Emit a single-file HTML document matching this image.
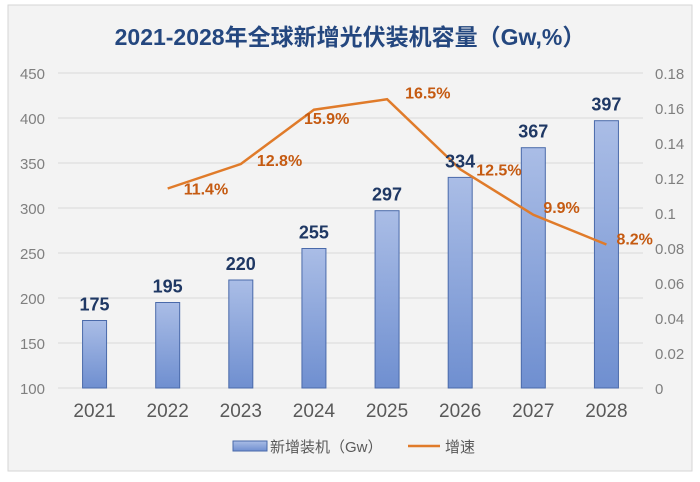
<!DOCTYPE html>
<html><head><meta charset="utf-8"><style>
body{margin:0;background:#fff;}
svg text{font-family:"Liberation Sans","Noto Sans CJK SC",sans-serif;}
</style></head><body>
<svg width="700" height="477" viewBox="0 0 700 477">
<defs><linearGradient id="bg" x1="0" y1="0" x2="0" y2="1"><stop offset="0" stop-color="#aabde6"/><stop offset="1" stop-color="#6f8fd0"/></linearGradient></defs>
<rect x="8" y="5" width="684" height="466" fill="#f3f3f3" stroke="#d6d6d6"/>
<text x="350" y="45" text-anchor="middle" font-size="23" font-weight="bold" fill="#24477f">2021-2028年全球新增光伏装机容量（Gw,%）</text>
<g id="grid"></g><g id="bars"></g><g id="line"></g><g id="labels"></g>
<g>
<rect x="233" y="441" width="34" height="10" fill="url(#bg)" stroke="#4a6aaa"/>
<text x="270" y="452" font-size="15" fill="#595959">新增装机（Gw）</text>
<line x1="408" y1="446" x2="440" y2="446" stroke="#e07b2a" stroke-width="2.5"/>
<text x="445" y="452" font-size="15" fill="#595959">增速</text>
</g>
</svg>
<script>
const categories=["2021","2022","2023","2024","2025","2026","2027","2028"];
const capacity=[175,195,220,255,297,334,367,397];
const growth=[null,0.114,0.128,0.159,0.165,0.125,0.099,0.082];
const growthLabels=["","11.4%","12.8%","15.9%","16.5%","12.5%","9.9%","8.2%"];
const leftTicks=[100,150,200,250,300,350,400,450];
const rightTicks=["0","0.02","0.04","0.06","0.08","0.1","0.12","0.14","0.16","0.18"];
const NS="http://www.w3.org/2000/svg";
const X0=58,X1=643,Y0=388,Y1=73;
const cw=(X1-X0)/categories.length;
const xc=i=>X0+cw*(i+0.5);
const yL=v=>Y0-(v-100)/350*(Y0-Y1);
const yR=v=>Y0-v/0.18*(Y0-Y1);
function mk(t,a,p,txt){const e=document.createElementNS(NS,t);for(const k in a)e.setAttribute(k,a[k]);if(txt!==undefined)e.textContent=txt;document.getElementById(p).appendChild(e);return e;}
leftTicks.forEach(v=>{
 const l=mk('line',{x1:X0,x2:X1,y1:yL(v),y2:yL(v),stroke:'#d9d9d9','stroke-width':1},'grid');
 
 
 const t=mk('text',{x:45,y:yL(v)+6,'text-anchor':'end','font-size':15,fill:'#7f7f7f'},'grid',String(v));
 
 
});
rightTicks.forEach((s,i)=>{
 const t=mk('text',{x:655,y:yR(parseFloat(s))+6,'font-size':15,fill:'#7f7f7f'},'grid',s);
 
 
});
categories.forEach((c,i)=>{
 const b=mk('rect',{x:xc(i)-12,y:yL(capacity[i]),width:24,height:Y0-yL(capacity[i]),fill:'url(#bg)',stroke:'#4a6aaa','stroke-width':1},'bars');
 
 
 const v=mk('text',{x:xc(i),y:yL(capacity[i])-10,'text-anchor':'middle','font-size':18,'font-weight':'bold',fill:'#1f3864'},'labels',String(capacity[i]));
 
 
 const t=mk('text',{x:xc(i),y:417,'text-anchor':'middle','font-size':19,fill:'#595959'},'labels',c);
 
 
});
let d='';growth.forEach((g,i)=>{if(g==null)return;d+=(d?'L':'M')+xc(i)+','+yR(g);});
const p=mk('path',{d:d,fill:'none',stroke:'#e07b2a','stroke-width':2.5},'line');


const off=[null,[16,6],[16,2],[-10,14],[18,-1],[16,6],[10,-2],[10,0]];
growth.forEach((g,i)=>{if(g==null)return;
 const t=mk('text',{x:xc(i)+off[i][0],y:yR(g)+off[i][1],'font-size':16,'font-weight':'bold',fill:'#c55a11'},'labels',growthLabels[i]);
 
 
});
</script>
</body></html>
